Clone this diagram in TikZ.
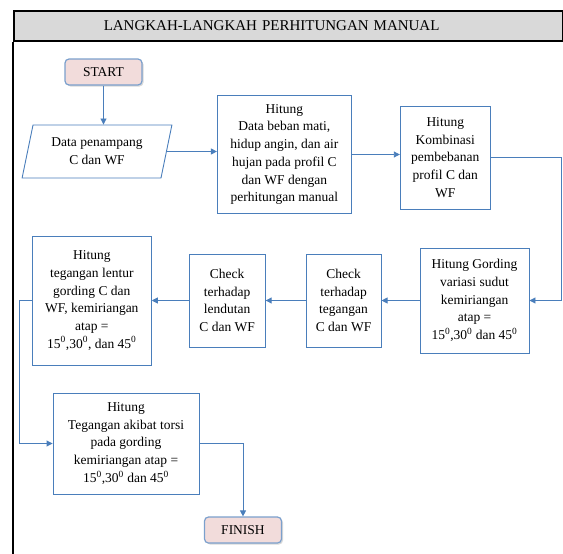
\documentclass[tikz,border=0pt]{standalone}
\usepackage{fontspec}
\setmainfont{Liberation Serif}
\usetikzlibrary{arrows.meta, % arrow tips
                shapes.geometric, % trapezium
                shadows,
                positioning}

\definecolor{flowblue}{HTML}{4A7EBB}
\definecolor{termfill}{HTML}{F2DCDB}
\definecolor{termline}{HTML}{7BA0CD}
\definecolor{headfill}{HTML}{D9D9D9}

\newcommand{\sudut}{\textsuperscript{0}}

\tikzset{
  txt/.style={font=\fontsize{13.5}{17.7}\selectfont},
  proc/.style={txt, draw=flowblue, line width=0.9pt, align=center, inner sep=2pt},
  term/.style={txt, draw=termline, fill=termfill, line width=1.2pt, rounded corners=4pt,
               minimum width=77pt, minimum height=26pt,
               drop shadow={shadow xshift=1.5pt, shadow yshift=-1.5pt, opacity=0.3}},
  io/.style={txt, trapezium, draw=flowblue, line width=0.9pt, align=center,
             trapezium left angle=76, trapezium right angle=104, trapezium stretches=true,
             minimum width=150pt, minimum height=53pt},
  header/.style={font=\fontsize{15}{18}\selectfont, draw=black, line width=1.5pt, fill=headfill,
                 anchor=north west, minimum height=30pt, text width=369pt, inner xsep=90pt, align=left},
  flow/.style={draw=flowblue, line width=0.9pt, -{Triangle[length=6pt,width=6pt]}}
}

\begin{document}
\begin{tikzpicture}[x=1pt, y=-1pt]
  \useasboundingbox (0,0) rectangle (563,554);

  % Frame
  \node[header] (title) at (13,10) {LANGKAH-LANGKAH PERHITUNGAN MANUAL};
  \draw[line width=1.5pt] (title.south west) -- ++(0,514);

  % Nodes
  \node[term] (start) at (103.5,72) {START};
  \node[io] (data) at (97,151.5) {Data penampang\\C dan WF};
  \node[proc, minimum width=134pt, minimum height=118pt] (beban) [right=50pt of data, yshift=-3pt]
    {Hitung\\Data beban mati,\\hidup angin, dan air\\hujan pada profil C\\dan WF dengan\\perhitungan manual};
  \node[proc, minimum width=90pt, minimum height=103pt] (kombinasi) [right=48pt of beban, yshift=-3pt]
    {Hitung\\Kombinasi\\pembebanan\\profil C dan\\WF};
  \node[proc, minimum width=109pt, minimum height=105pt] (gording) at (474.5,300.5)
    {Hitung Gording\\variasi sudut\\kemiriangan\\atap =\\15\sudut,30\sudut{} dan 45\sudut};
  \node[proc, minimum width=75pt, minimum height=93pt] (tegangan) [left=38pt of gording]
    {Check\\terhadap\\tegangan\\C dan WF};
  \node[proc, minimum width=76pt, minimum height=93pt] (lendutan) [left=40pt of tegangan]
    {Check\\terhadap\\lendutan\\C dan WF};
  \node[proc, minimum width=119pt, minimum height=129pt] (lentur) [left=37pt of lendutan]
    {Hitung\\tegangan lentur\\gording C dan\\WF, kemiriangan\\atap =\\15\sudut,30\sudut, dan 45\sudut};
  \node[proc, minimum width=146pt, minimum height=101pt] (torsi) at (126,443.5)
    {Hitung\\Tegangan akibat torsi\\pada gording\\kemiriangan atap =\\15\sudut,30\sudut{} dan 45\sudut};
  \node[term] (finish) at (243,530) {FINISH};

  % Edges
  \draw[flow] (start.south) -- (start.south |- data.north);
  \draw[flow] (data.east) -- (data.east -| beban.west);
  \draw[flow] (beban.east) -- (beban.east -| kombinasi.west);
  \draw[flow] (kombinasi.east) -- ++(71,0) |- (gording.east);
  \draw[flow] (gording) -- (tegangan);
  \draw[flow] (tegangan) -- (lendutan);
  \draw[flow] (lendutan) -- (lentur);
  \draw[flow] (lentur.west) -- ++(-12,0) |- (torsi.west);
  \draw[flow] (torsi.east) -| (finish.north);
\end{tikzpicture}
\end{document}
